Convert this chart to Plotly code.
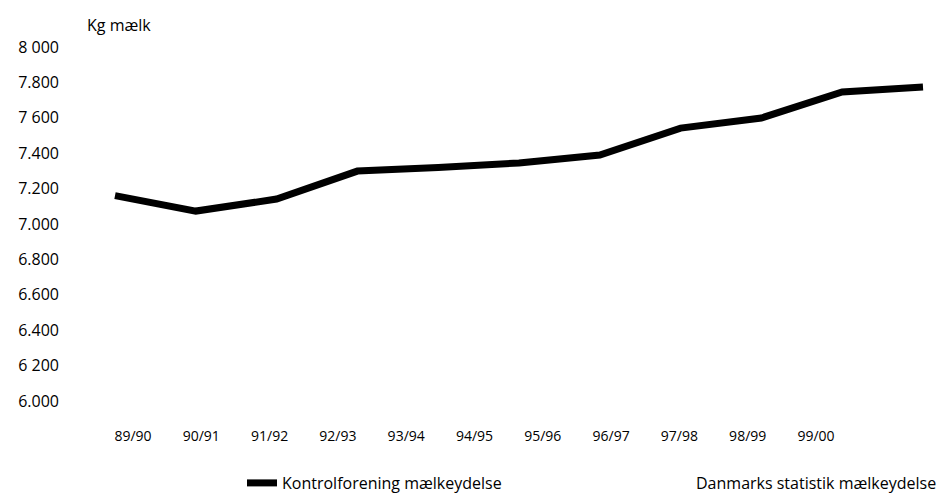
import plotly.graph_objects as go

seasons = ["89/90", "90/91", "91/92", "92/93", "93/94", "94/95",
           "95/96", "96/97", "97/98", "98/99", "99/00"]
kontrol_values = [7160, 7073, 7141, 7299, 7319, 7345, 7390, 7542, 7599, 7746, 7774]
danmarks_values = [None]  # not visible in the reference

y_tickvals = [6000, 6200, 6400, 6600, 6800, 7000, 7200, 7400, 7600, 7800, 8000]
y_ticktext = ["6.000", "6 200", "6.400", "6.600", "6.800", "7.000",
              "7.200", "7.400", "7 600", "7.800", "8 000"]

# page body has an 8px margin, so the figure is sized to fit the window
W, H = 944, 488
ML, MR, MT, MB = 52, 2, 32, 81
plot_w = W - ML - MR
plot_h = H - MT - MB

idx = list(range(len(seasons)))

# line axis: points at 107 + 80.8*i px (figure coords)
line_step = 80.8
line_a = -(107 - ML) / line_step
line_b = line_a + plot_w / line_step
# label axis: labels at 125 + 68.3*i px
lab_step = 68.3
lab_a = -(125 - ML) / lab_step
lab_b = lab_a + plot_w / lab_step

FONT = "Open Sans"

fig = go.Figure()
fig.add_trace(go.Scatter(
    x=idx, y=kontrol_values, mode="lines",
    name="Kontrolforening mælkeydelse",
    line=dict(color="black", width=7),
    xaxis="x", yaxis="y", hoverinfo="skip", legend="legend",
))
fig.add_trace(go.Scatter(
    x=danmarks_values, y=danmarks_values, mode="lines",
    name="Danmarks statistik mælkeydelse",
    line=dict(color="rgba(255,255,255,0)", width=7),
    xaxis="x", yaxis="y", legend="legend2", showlegend=True,
))
# invisible carrier trace for the category label axis
fig.add_trace(go.Scatter(
    x=idx, y=kontrol_values, mode="lines", showlegend=False,
    line=dict(color="rgba(0,0,0,0)", width=0), xaxis="x2", yaxis="y",
    hoverinfo="skip",
))

fig.update_layout(
    width=W, height=H,
    margin=dict(l=ML, r=MR, t=MT, b=MB, autoexpand=False),
    paper_bgcolor="white", plot_bgcolor="white",
    font=dict(family=FONT, size=16, color="black"),
    xaxis=dict(range=[line_a, line_b], visible=False, fixedrange=True),
    xaxis2=dict(range=[lab_a, lab_b], overlaying="x", side="bottom",
                tickvals=idx, ticktext=seasons, showgrid=False,
                zeroline=False, showline=False, ticks="",
                tickfont=dict(family=FONT, size=14),
                ticklabelstandoff=11),
    yaxis=dict(range=[5921, 8039.5], tickvals=y_tickvals, ticktext=y_ticktext,
               showgrid=False, zeroline=False, showline=False, ticks="",
               ticklabelstandoff=0),
    legend=dict(orientation="h", xref="container", yref="container",
                x=234 / W, y=(H - 475) / H, xanchor="left", yanchor="middle",
                font=dict(family=FONT, size=16),
                bgcolor="rgba(0,0,0,0)"),
    legend2=dict(orientation="h", xref="container", yref="container",
                 x=648 / W, y=(H - 475) / H, xanchor="left", yanchor="middle",
                 font=dict(family=FONT, size=16),
                 bgcolor="rgba(0,0,0,0)"),
    annotations=[dict(text="Kg mælk", xref="paper", yref="paper",
                      x=(77 - ML) / plot_w, y=(H - MB - 17) / plot_h,
                      xanchor="left", yanchor="middle", showarrow=False,
                      font=dict(family=FONT, size=16))],
    showlegend=True,
)

fig.write_html("out.html")
